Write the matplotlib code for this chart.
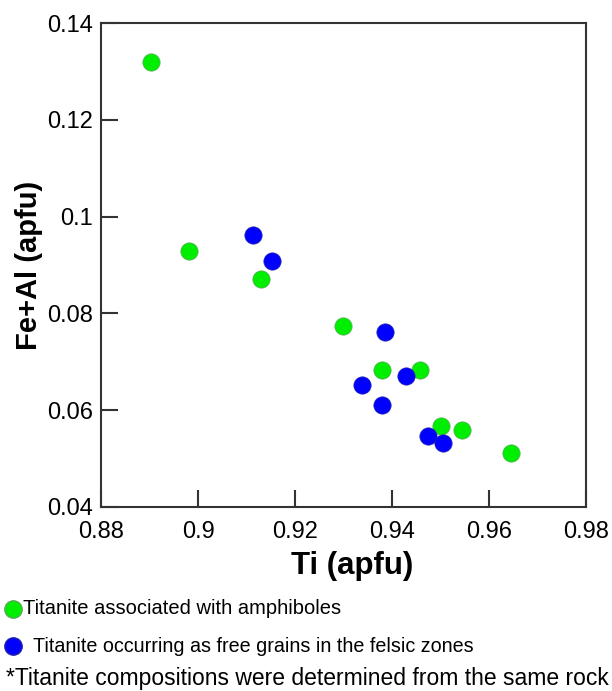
import matplotlib
matplotlib.use("Agg")
import matplotlib.pyplot as plt
from matplotlib.lines import Line2D

plt.rcParams['font.family'] = ['Liberation Sans', 'DejaVu Sans']

# titanite associated with amphiboles
amph_ti = [0.8902, 0.8981, 0.9130, 0.9299, 0.9380, 0.9458, 0.9500, 0.9545, 0.9645]
amph_feal = [0.1320, 0.0929, 0.0872, 0.0774, 0.0682, 0.0682, 0.0567, 0.0558, 0.0511]

# titanite as free grains in felsic zones
free_ti = [0.9113, 0.9152, 0.9385, 0.9428, 0.9338, 0.9380, 0.9475, 0.9506]
free_feal = [0.0962, 0.0908, 0.0762, 0.0671, 0.0652, 0.0610, 0.0547, 0.0532]

xticks = [0.88, 0.9, 0.92, 0.94, 0.96, 0.98]
xtick_labels = ['0.88', '0.9', '0.92', '0.94', '0.96', '0.98']
yticks = [0.04, 0.06, 0.08, 0.1, 0.12, 0.14]
ytick_labels = ['0.04', '0.06', '0.08', '0.1', '0.12', '0.14']

green = '#00ee00'
blue = '#0000ff'

fig = plt.figure(figsize=(6.12, 6.91), dpi=100)
ax = fig.add_axes([0.1655, 0.2667, 0.792, 0.6996])

ax.scatter(amph_ti, amph_feal, s=155, c=green, edgecolors='#55aa55', linewidths=0.5, zorder=3)
ax.scatter(free_ti, free_feal, s=155, c=blue, edgecolors='#2222aa', linewidths=0.5, zorder=3)

ax.set_xlim(0.88, 0.98)
ax.set_ylim(0.04, 0.14)
ax.set_xticks(xticks)
ax.set_xticklabels(xtick_labels)
ax.set_yticks(yticks)
ax.set_yticklabels(ytick_labels)
ax.tick_params(direction='in', length=12, width=1.5, color='#333333', labelsize=17)
ax.tick_params(axis='x', pad=10)
ax.tick_params(axis='y', pad=6)
for sp in ax.spines.values():
    sp.set_linewidth(1.5)
    sp.set_color('#333333')

ax.set_xlabel('Ti (apfu)', fontsize=22.5, fontweight='bold')
ax.xaxis.set_label_coords(0.517, -0.092)
ax.set_ylabel('Fe+Al (apfu)', fontsize=21, fontweight='bold', labelpad=3)

# legend below the plot
fig.add_artist(Line2D([12.5 / 612], [1 - 609 / 691], marker='o', markersize=12.5,
                      markerfacecolor=green, markeredgecolor='#55aa55', transform=fig.transFigure))
fig.add_artist(Line2D([13 / 612], [1 - 646 / 691], marker='o', markersize=12.5,
                      markerfacecolor=blue, markeredgecolor='#2222aa', transform=fig.transFigure))
fig.text(23 / 612, 1 - 609 / 691, 'Titanite associated with amphiboles', fontsize=14.5, va='center')
fig.text(33 / 612, 1 - 646 / 691, 'Titanite occurring as free grains in the felsic zones', fontsize=14.2, va='center')
fig.text(6 / 612, 1 - 679 / 691, '*Titanite compositions were determined from the same rock sample',
         fontsize=16.5, va='center')

fig.savefig('out.png', dpi=100)
